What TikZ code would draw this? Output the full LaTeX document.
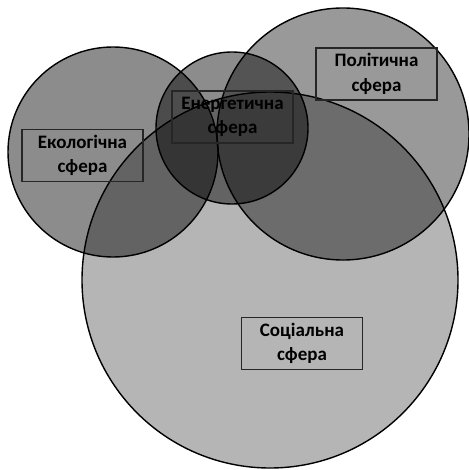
\documentclass[tikz,border=0pt]{standalone}
\usepackage{fontspec}
\setmainfont{Carlito}[BoldFont={Carlito Bold}]
\begin{document}
\begin{tikzpicture}[x=1pt,y=-1pt,
  sphere/.style={circle, draw=black, line width=1.4pt, fill=black, inner sep=0pt},
  lbl/.style={draw=black!85, line width=1.5pt, minimum width=121pt, minimum height=52pt,
    align=center, inner sep=0pt, text=black,
    font=\fontsize{19}{24.5}\selectfont\bfseries}]
\useasboundingbox (0,0) rectangle (468,470);
\fill[white] (0,0) rectangle (468,470);
\node[sphere, fill opacity=0.45, minimum size=210pt] (eco) at (113,152) {};
\node[sphere, fill opacity=0.45, minimum size=152pt] (energy) at (232,128) {};
\node[sphere, fill opacity=0.40, minimum size=252pt] (pol) at (343,134) {};
\node[sphere, fill opacity=0.29, minimum size=376pt] (soc) at (270,280) {};
\node[lbl] (ecol) at (82.5,155.5) {Екологічна\\сфера};
\node[lbl] (enl) at (232.5,117) {Енергетична\\сфера};
\node[lbl] (poll) at (376.5,74) {Політична\\сфера};
\node[lbl] (socl) at (302,343.5) {Соціальна\\сфера};
\end{tikzpicture}
\end{document}
